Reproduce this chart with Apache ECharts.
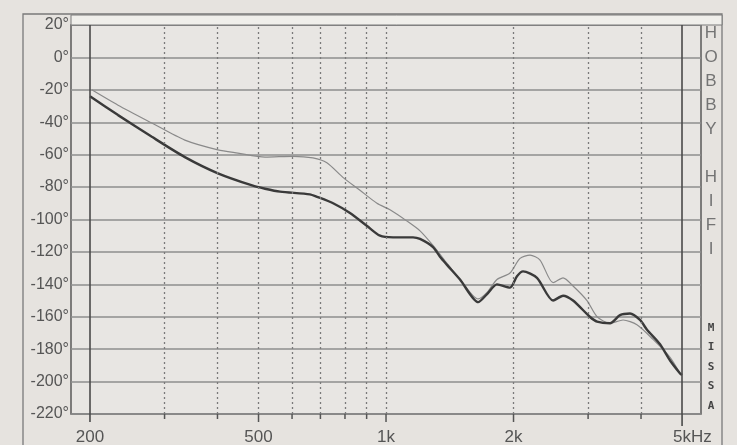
<!DOCTYPE html>
<html>
<head>
<meta charset="utf-8">
<script src="https://cdn.jsdelivr.net/npm/echarts@6/dist/echarts.min.js"></script>
<style>
  html, body { margin: 0; padding: 0; background: #e6e3df; }
  #chart { width: 737px; height: 445px; }
</style>
</head>
<body>
<div id="chart"></div>
<script>
// ---- data ----
const darkFreq  = [200,233,280,335,401,483,518,562,661,687,750,822,902,968,1039,1158,1203,1291,1341,1393,1495,1650,1732,1828,1962,2038,2106,2272,2480,2618,2764,3028,3150,3380,3568,3768,3978,4132,4436,4684,4946,5000];
const darkPhase = [-24,-35.6,-49,-61.5,-71.5,-79,-81,-82.8,-84.5,-86,-90,-96,-104,-110,-111,-111,-112,-117,-123,-128,-137,-151,-146,-140,-142,-135,-132,-136,-150,-147,-150,-160,-163,-164,-159,-158,-162,-168,-177,-187,-195,-196];

const lightFreq  = [202,233,280,335,401,447,518,603,672,725,791,868,952,1022,1121,1203,1291,1393,1495,1650,1732,1828,1962,2072,2188,2310,2480,2618,2764,2982,3150,3380,3628,3912,4270,4684,4946];
const lightPhase = [-20,-29.5,-40.5,-51,-57,-59,-61.5,-61,-62,-65,-74,-82,-90,-94,-101,-107,-116,-127,-137,-149,-145,-137,-133,-124,-122,-125,-139,-136,-141,-150,-160,-164,-162,-165,-174,-185,-195];

const dottedFreqs = [300,400,500,600,700,800,900,1000,2000,3000,4000];
const edgeFreqs   = [200,5000];
const labelFreqs  = [200,500,1000,2000,5000];
const labelTexts  = ['200','500','1k','2k','5kHz'];
const majorTickFreqs = [200,500,1000,2000,5000];

const yMin = -220, yMax = 20, yStep = 20;
const xMin = 180.4, xMax = 5542;

const brandTop = 'H\nO\nB\nB\nY\n\nH\nI\nF\nI';
const brandBottom = 'M\nI\nS\nS\nA';

const zip = (a, b) => a.map((v, i) => [v, b[i]]);

const chart = echarts.init(document.getElementById('chart'));

const option = {
  animation: false,
  backgroundColor: '#e6e3df',
  grid: {
    left: 71, right: 36, top: 25, bottom: 31,
    show: true, backgroundColor: '#e8e6e3',
    borderColor: '#5a5a5a', borderWidth: 1.5
  },
  xAxis: {
    type: 'log', logBase: 10, min: xMin, max: xMax,
    axisLine: { show: false }, axisTick: { show: false },
    axisLabel: { show: false }, splitLine: { show: false }, minorSplitLine: { show: false }
  },
  yAxis: {
    type: 'value', min: yMin, max: yMax, interval: yStep,
    axisLine: { show: false }, axisTick: { show: false },
    axisLabel: {
      formatter: '{value}°', color: '#555', fontSize: 16,
      fontFamily: 'Liberation Sans, Arial, sans-serif', margin: 2
    },
    splitLine: { lineStyle: { color: '#8e8e8e', width: 1.5 } }
  },
  series: [
    {
      name: 'light', type: 'line', data: zip(lightFreq, lightPhase),
      showSymbol: false, smooth: 0.25,
      lineStyle: { color: '#8a8a8a', width: 1.2 },
      z: 3,
      markLine: {
        silent: true, symbol: 'none', label: { show: false },
        lineStyle: { color: '#7a7a7a', type: [2, 3], width: 1.3 },
        data: dottedFreqs.map(f => ({ xAxis: f }))
      }
    },
    {
      name: 'dark', type: 'line', data: zip(darkFreq, darkPhase),
      showSymbol: false, smooth: 0.25,
      lineStyle: { color: '#3a3a3a', width: 2.4 },
      z: 4,
      markLine: {
        silent: true, symbol: 'none', label: { show: false },
        lineStyle: { color: '#4a4a4a', type: 'solid', width: 1.6 },
        data: edgeFreqs.map(f => ({ xAxis: f }))
      }
    }
  ]
};
chart.setOption(option);

// ---- frame, ticks below the axis and x labels placed through the axis scale ----
const bottomY = chart.convertToPixel({ yAxisIndex: 0 }, yMin);
const topY = chart.convertToPixel({ yAxisIndex: 0 }, yMax);
const gridLeft = 71;

const graphics = [
  { type: 'rect', shape: { x: 23, y: 14, width: 699, height: 460 },
    style: { fill: 'none', stroke: '#7a7a7a', lineWidth: 1.3 }, z: 1 },
  { type: 'rect', shape: { x: gridLeft, y: 15, width: 722 - gridLeft, height: topY - 15 },
    style: { fill: '#f0efeb', stroke: '#7a7a7a', lineWidth: 1 }, z: 1 },
  { type: 'text', x: 711, y: 21, z: 10,
    style: { text: brandTop, fill: '#747474', fontSize: 17, fontFamily: 'Liberation Sans, Arial, sans-serif',
             lineHeight: 24, textAlign: 'center', textVerticalAlign: 'top' } },
  { type: 'text', x: 711, y: 318, z: 10,
    style: { text: brandBottom, fill: '#444', fontSize: 11, fontWeight: 'bold',
             fontFamily: 'DejaVu Sans Mono, monospace', lineHeight: 19.5, textAlign: 'center', textVerticalAlign: 'top' } }
];

dottedFreqs.forEach(f => {
  const x = chart.convertToPixel({ xAxisIndex: 0 }, f);
  const major = majorTickFreqs.indexOf(f) >= 0;
  graphics.push({ type: 'line', z: 5,
    shape: { x1: x, y1: bottomY, x2: x, y2: bottomY + (major ? 8 : 5) },
    style: { stroke: '#555', lineWidth: 1.5 } });
});
edgeFreqs.forEach(f => {
  const x = chart.convertToPixel({ xAxisIndex: 0 }, f);
  graphics.push({ type: 'line', z: 5,
    shape: { x1: x, y1: bottomY, x2: x, y2: bottomY + (f === 5000 ? 12 : 8) },
    style: { stroke: '#4a4a4a', lineWidth: 1.6 } });
});
labelFreqs.forEach((f, i) => {
  const x = chart.convertToPixel({ xAxisIndex: 0 }, f);
  const last = i === labelFreqs.length - 1;
  graphics.push({ type: 'text', z: 10, x: last ? x - 9 : x, y: bottomY + 23,
    style: { text: labelTexts[i], fill: '#555', fontSize: 17,
             fontFamily: 'Liberation Sans, Arial, sans-serif',
             textAlign: last ? 'left' : 'center', textVerticalAlign: 'middle' } });
});

chart.setOption({ graphic: graphics });
</script>
</body>
</html>
